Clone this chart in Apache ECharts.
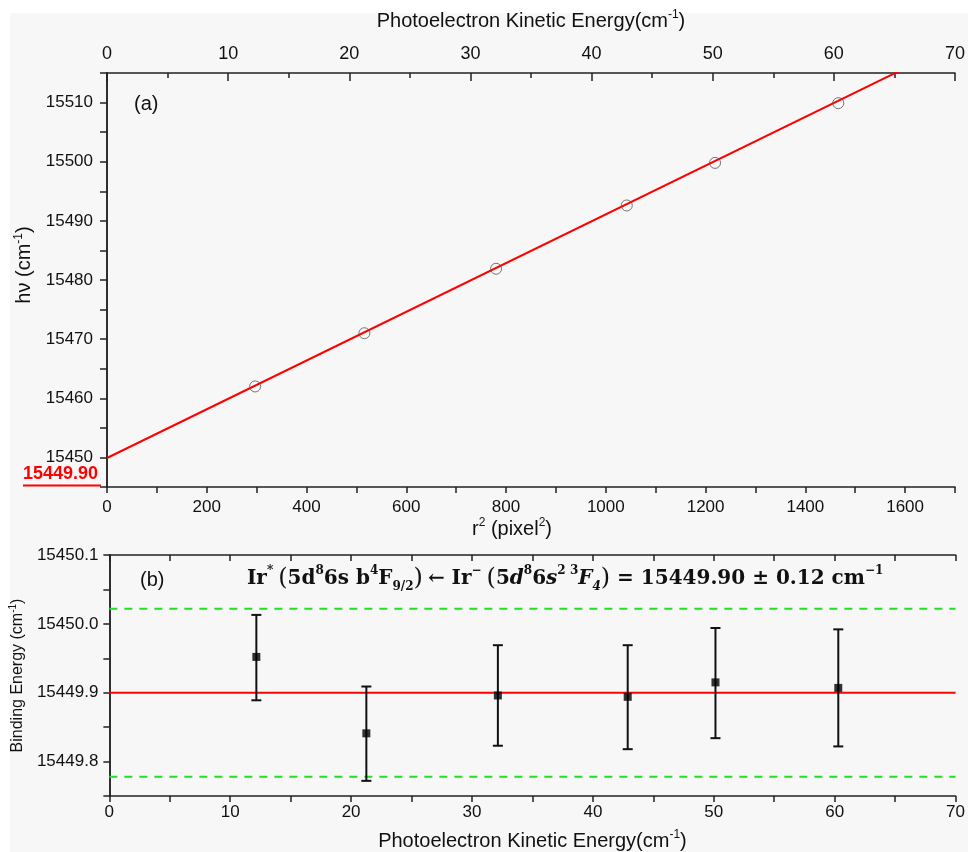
<!DOCTYPE html>
<html>
<head>
<meta charset="utf-8">
<script src="https://cdn.jsdelivr.net/npm/echarts@6/dist/echarts.min.js"></script>
<style>
html,body{margin:0;padding:0;background:#fff;}
#bg{position:absolute;left:10px;top:13px;right:0;bottom:0;background:#f7f7f7;}
#chart{position:absolute;left:0;top:0;width:968px;height:852px;}
</style>
</head>
<body>
<div id="bg"></div>
<div id="chart"></div>
<script>
// ---- data ----
var r2 = [297, 516, 780, 1042, 1219, 1466];
var hv = [15462.0, 15471.0, 15481.9, 15492.6, 15499.8, 15509.9];
var fitR2 = [0, 1700];
var fitHv = [15449.90, 15519.94];

var ke = [12.16, 21.26, 32.14, 42.88, 50.14, 60.3];
var be = [15449.952, 15449.841, 15449.896, 15449.894, 15449.915, 15449.907];
var beHigh = [15450.013, 15449.909, 15449.969, 15449.969, 15449.994, 15449.992];
var beLow = [15449.889, 15449.772, 15449.823, 15449.818, 15449.834, 15449.822];
var beMean = 15449.90;
var beBand = [15450.022, 15449.778];
var keRange = [0, 70];

var topTicks = {min: 0, max: 70, interval: 10};
var r2Ticks = {min: 0, max: 1700, interval: 100};
var hvTicks = {min: 15445, max: 15515, interval: 5};
var beTicks = {min: 15449.75, max: 15450.1, interval: 0.05};

var font = 'Liberation Sans, Arial, sans-serif';
var serif = 'DejaVu Serif, Liberation Serif, serif';
var axisCol = '#222';
var supStyle = {fontSize: 12, verticalAlign: 'top', lineHeight: 12, fontFamily: font, color: '#111'};

function zip(a, b) { return a.map(function (v, i) { return [v, b[i]]; }); }

var chart = echarts.init(document.getElementById('chart'), null, {renderer: 'canvas'});

var baseAxisLine = {show: true, lineStyle: {color: axisCol, width: 1.5}};

var option = {
  animation: false,
  backgroundColor: 'transparent',
  title: [
    {text: '(a)', left: 129, top: 89, textStyle: {fontFamily: font, fontSize: 20, fontWeight: 'normal', color: '#111'}},
    {text: '(b)', left: 135, top: 565, textStyle: {fontFamily: font, fontSize: 20, fontWeight: 'normal', color: '#111'}},
    {text: '{r|15449.90}\n{u|}', left: 18, top: 459, textStyle: {rich: {
      r: {fontFamily: font, fontSize: 18, fontWeight: 'bold', color: '#f00', lineHeight: 20},
      u: {width: 78, height: 2, backgroundColor: '#f00', lineHeight: 3}
    }}},
    {text: '{b|Ir}{s|*} {p|(}{b|5d}{s|8}{b|6s b}{s|4}{b|F}{d|9/2}{p|)} {b|← Ir}{s|−} {p|(}{b|5}{i|d}{s|8}{b|6}{i|s}{s|2 3}{i|F}{di|4}{p|)}{b| = 15449.90 ± 0.12 cm}{s|−1}',
     left: 242, top: 560,
     textStyle: {rich: {
       b: {fontFamily: serif, fontSize: 20, fontWeight: 'bold', color: '#111', lineHeight: 28},
       i: {fontFamily: serif, fontSize: 20, fontWeight: 'bold', fontStyle: 'italic', color: '#111', lineHeight: 28},
       p: {fontFamily: serif, fontSize: 24, fontWeight: 'normal', color: '#111', lineHeight: 28},
       s: {fontFamily: serif, fontSize: 12, fontWeight: 'bold', color: '#111', verticalAlign: 'top', lineHeight: 14},
       d: {fontFamily: serif, fontSize: 12, fontWeight: 'bold', color: '#111', verticalAlign: 'bottom', lineHeight: 14},
       di: {fontFamily: serif, fontSize: 12, fontWeight: 'bold', fontStyle: 'italic', color: '#111', verticalAlign: 'bottom', lineHeight: 14}
     }}}
  ],
  grid: [
    {left: 107, right: 12, top: 73, height: 414, containLabel: false},
    {left: 107, right: 12, top: 555, height: 241, containLabel: false}
  ],
  xAxis: [
    { // r^2 bottom of top panel
      type: 'value', gridIndex: 0, position: 'bottom',
      min: r2Ticks.min, max: r2Ticks.max, interval: r2Ticks.interval,
      axisLine: baseAxisLine,
      axisTick: {show: true, inside: false, length: 6, lineStyle: {color: axisCol, width: 1.5}},
      axisLabel: {interval: 0, margin: 12, fontFamily: font, fontSize: 17, color: '#111',
        formatter: function (v) { return (Math.round(v) % 200 === 0) ? String(Math.round(v)) : ''; }},
      splitLine: {show: false},
      name: '{t|r}{s|2}{t| (pixel}{s|2}{t|)}', nameLocation: 'middle', nameGap: 30,
      nameTextStyle: {padding: [0, 38, 0, 0], rich: {t: {fontFamily: font, fontSize: 20, color: '#111', lineHeight: 24}, s: supStyle}}
    },
    { // KE top of top panel
      type: 'value', gridIndex: 0, position: 'top',
      min: topTicks.min, max: topTicks.max, interval: topTicks.interval,
      axisLine: baseAxisLine,
      axisTick: {show: true, inside: true, length: 8, lineStyle: {color: axisCol, width: 1.5}},
      minorTick: {show: true, splitNumber: 2, length: 5, lineStyle: {color: axisCol, width: 1.5}},
      axisLabel: {margin: 10, fontFamily: font, fontSize: 18, color: '#111'},
      splitLine: {show: false},
      name: '{t|Photoelectron Kinetic Energy(cm}{s|-1}{t|)}', nameLocation: 'middle', nameGap: 40,
      nameTextStyle: {rich: {t: {fontFamily: font, fontSize: 20, color: '#111', lineHeight: 24}, s: supStyle}}
    },
    { // KE bottom of bottom panel
      type: 'value', gridIndex: 1, position: 'bottom',
      min: topTicks.min, max: topTicks.max, interval: 5,
      axisLine: baseAxisLine,
      axisTick: {show: true, inside: false, length: 6, lineStyle: {color: axisCol, width: 1.5}},
      axisLabel: {interval: 0, margin: 8, fontFamily: font, fontSize: 17, color: '#111',
        formatter: function (v) { return (Math.round(v) % 10 === 0) ? String(Math.round(v)) : ''; }},
      splitLine: {show: false},
      name: '{t|Photoelectron Kinetic Energy(cm}{s|-1}{t|)}', nameLocation: 'middle', nameGap: 33,
      nameTextStyle: {rich: {t: {fontFamily: font, fontSize: 20, color: '#111', lineHeight: 24}, s: supStyle}}
    },
    { // KE top of bottom panel (ticks only)
      type: 'value', gridIndex: 1, position: 'top',
      min: topTicks.min, max: topTicks.max, interval: 5,
      axisLine: baseAxisLine,
      axisTick: {show: true, inside: true, length: 6, lineStyle: {color: axisCol, width: 1.5}},
      axisLabel: {show: false}, splitLine: {show: false}
    }
  ],
  yAxis: [
    {
      type: 'value', gridIndex: 0, position: 'left',
      min: hvTicks.min, max: hvTicks.max, interval: hvTicks.interval,
      axisLine: baseAxisLine,
      axisTick: {show: true, inside: false, length: 7, lineStyle: {color: axisCol, width: 1.5}},
      axisLabel: {interval: 0, margin: 14, fontFamily: font, fontSize: 17, color: '#111',
        formatter: function (v) { var n = Math.round(v); return (n % 10 === 0) ? String(n) : ''; }},
      splitLine: {show: false},
      name: '{t|hν (cm}{s|-1}{t|)}', nameLocation: 'middle', nameGap: 50, nameRotate: 90,
      nameTextStyle: {padding: [0, 0, 0, 30], rich: {t: {fontFamily: font, fontSize: 20, color: '#111', lineHeight: 24}, s: supStyle}}
    },
    {
      type: 'value', gridIndex: 0, position: 'right',
      min: hvTicks.min, max: hvTicks.max, interval: hvTicks.interval,
      axisLine: baseAxisLine,
      axisTick: {show: true, inside: true, length: 7, lineStyle: {color: axisCol, width: 1.5}},
      axisLabel: {show: false}, splitLine: {show: false}
    },
    {
      type: 'value', gridIndex: 1, position: 'left',
      min: beTicks.min, max: beTicks.max, interval: beTicks.interval,
      axisLine: baseAxisLine,
      axisTick: {show: true, inside: false, length: 6, lineStyle: {color: axisCol, width: 1.5}},
      axisLabel: {interval: 0, margin: 11, fontFamily: font, fontSize: 17, color: '#111',
        formatter: function (v) { var n = Math.round(v * 100); return (n % 10 === 0) ? v.toFixed(1) : ''; }},
      splitLine: {show: false},
      name: '{t|Binding Energy (cm}{s|-1}{t|)}', nameLocation: 'middle', nameGap: 77, nameRotate: 90,
      nameTextStyle: {rich: {t: {fontFamily: font, fontSize: 16, color: '#111', lineHeight: 20}, s: {fontSize: 10, verticalAlign: 'top', lineHeight: 10, fontFamily: font, color: '#111'}}}
    },
    {
      type: 'value', gridIndex: 1, position: 'right',
      min: beTicks.min, max: beTicks.max, interval: beTicks.interval,
      axisLine: baseAxisLine,
      axisTick: {show: true, inside: true, length: 6, lineStyle: {color: axisCol, width: 1.5}},
      axisLabel: {show: false}, splitLine: {show: false}
    }
  ],
  series: [
    {
      type: 'line', xAxisIndex: 0, yAxisIndex: 0, data: zip(fitR2, fitHv),
      showSymbol: false, clip: true, lineStyle: {color: '#ff0000', width: 2}, z: 2
    },
    {
      type: 'scatter', xAxisIndex: 0, yAxisIndex: 0, data: zip(r2, hv),
      symbol: 'circle', symbolSize: 11,
      itemStyle: {color: 'rgba(0,0,0,0)', borderColor: '#555', borderWidth: 1}, z: 3
    },
    {
      type: 'line', xAxisIndex: 2, yAxisIndex: 2, data: zip(keRange, [beMean, beMean]),
      showSymbol: false, lineStyle: {color: '#ff0000', width: 2}, z: 2
    },
    {
      type: 'line', xAxisIndex: 2, yAxisIndex: 2, data: zip(keRange, [beBand[0], beBand[0]]),
      showSymbol: false, lineStyle: {color: '#22e022', width: 2, type: [8, 7]}, z: 2
    },
    {
      type: 'line', xAxisIndex: 2, yAxisIndex: 2, data: zip(keRange, [beBand[1], beBand[1]]),
      showSymbol: false, lineStyle: {color: '#22e022', width: 2, type: [8, 7]}, z: 2
    },
    {
      type: 'custom', xAxisIndex: 2, yAxisIndex: 2,
      data: ke.map(function (k, i) { return [k, beLow[i], beHigh[i]]; }),
      renderItem: function (params, api) {
        var x = api.value(0);
        var lo = api.coord([x, api.value(1)]);
        var hi = api.coord([x, api.value(2)]);
        var cw = 5;
        var st = {stroke: '#111', lineWidth: 2};
        return {type: 'group', children: [
          {type: 'line', shape: {x1: lo[0], y1: lo[1], x2: hi[0], y2: hi[1]}, style: st},
          {type: 'line', shape: {x1: lo[0] - cw, y1: lo[1], x2: lo[0] + cw, y2: lo[1]}, style: st},
          {type: 'line', shape: {x1: hi[0] - cw, y1: hi[1], x2: hi[0] + cw, y2: hi[1]}, style: st}
        ]};
      },
      z: 3
    },
    {
      type: 'scatter', xAxisIndex: 2, yAxisIndex: 2, data: zip(ke, be),
      symbol: 'rect', symbolSize: 8, itemStyle: {color: '#000'}, z: 4
    }
  ]
};
chart.setOption(option);
</script>
</body>
</html>
